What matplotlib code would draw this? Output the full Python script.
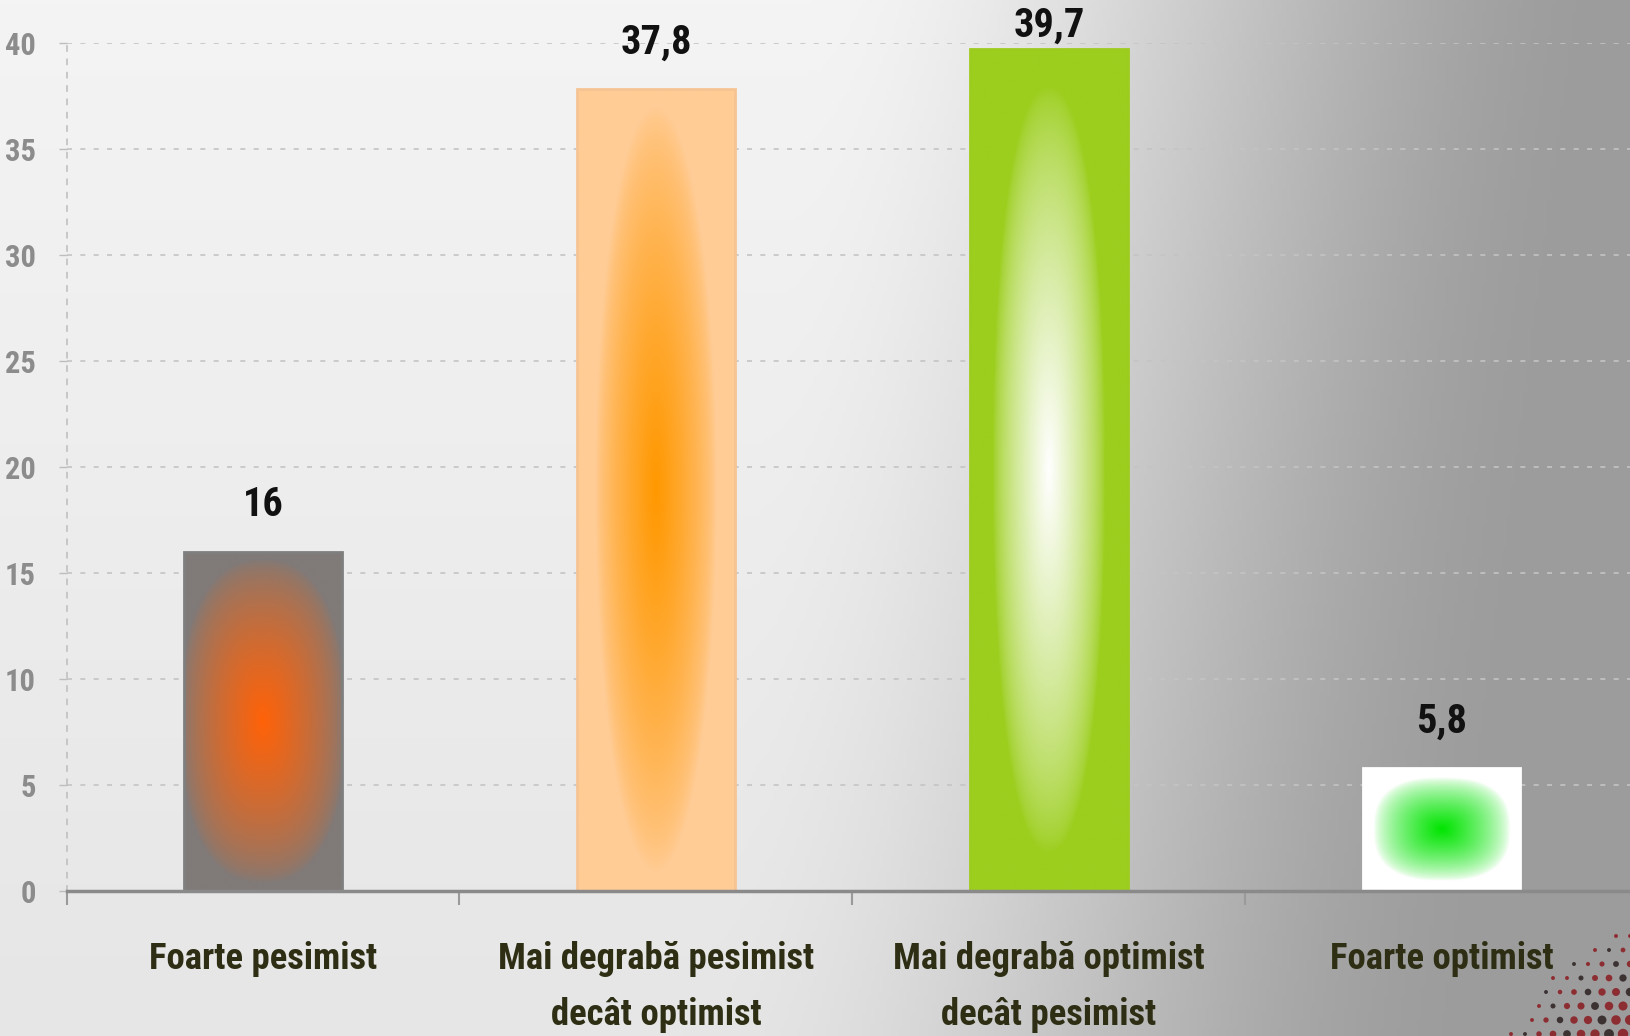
import numpy as np
import matplotlib
matplotlib.use("Agg")
import matplotlib.pyplot as plt
from matplotlib import font_manager as fm

categories = ["Foarte pesimist", "Mai degrabă pesimist\ndecât optimist",
              "Mai degrabă optimist\ndecât pesimist", "Foarte optimist"]
values = [16, 37.8, 39.7, 5.8]
value_labels = ["16", "37,8", "39,7", "5,8"]
yticks = [0, 5, 10, 15, 20, 25, 30, 35, 40]

# (edge colour, centre colour, x scale, y scale, shape power) for each bar's glow
glow = [
    ((128, 122, 120), (255, 98, 8), 0.95, 1.05, 2.4),
    ((255, 204, 150), (255, 152, 0), 1.3, 1.05, 2.0),
    ((156, 206, 30), (255, 255, 255), 1.4, 1.1, 2.2),
    ((255, 255, 255), (0, 228, 0), 1.15, 1.2, 2.6),
]
edge_cols = ['#7f7f7f', '#f6c493', '#9dcc1e', '#ffffff']

# pick a narrow font if one is installed
ttf = fm.fontManager.ttflist
names = {f.name for f in ttf}
stretch = 'normal'
scale = 0.78
if 'Liberation Sans Narrow' in names:
    family = 'Liberation Sans Narrow'
    scale = 1.0
elif 'Roboto Condensed' in names:
    family = 'Roboto Condensed'
    scale = 1.0
elif any(f.name == 'DejaVu Sans' and 'condensed' in str(f.stretch) for f in ttf):
    family = 'DejaVu Sans'
    stretch = 'condensed'
    scale = 0.88
else:
    family = 'DejaVu Sans'
plt.rcParams['font.family'] = [family, 'DejaVu Sans']
plt.rcParams['font.stretch'] = stretch

W, H = 1631, 1036
fig = plt.figure(figsize=(W / 100, H / 100), dpi=100)

# background: light grey on the left going darker to the right
bg = fig.add_axes([0, 0, 1, 1])
gx = np.linspace(0, 1, 400)
gy = np.linspace(0, 1, 200)
X, Y = np.meshgrid(gx, gy)
t = np.clip((X - 0.5 + 0.08 * Y) / 0.5, 0, 1)
t = t * t * (3 - 2 * t)
shade = 244 - 88 * t - 14 * Y * (1 - t)
bg.imshow(np.dstack([shade, shade, shade]).astype(np.uint8), extent=(0, W, H, 0),
          aspect='auto', interpolation='bilinear')

# halftone logo piece in the bottom right corner
hx, hy = np.meshgrid(np.arange(1420, 1650, 14), np.arange(880, 1060, 14))
hx = hx + (np.arange(hx.shape[0])[:, None] % 2) * 7
r = np.hypot(hx - 1700, hy - 1125)
m = r < 210
dot_c = np.where((hx[m] + hy[m]) % 3 < 1, '#2b2020', '#8a1a20')
bg.scatter(hx[m], hy[m], s=np.clip((210 - r[m]) / 1.6, 8, 60), c=dot_c, alpha=0.85, lw=0)
bg.set_xlim(0, W)
bg.set_ylim(H, 0)
bg.axis('off')

ax = fig.add_axes([0.0408, 0.1395, 0.9637, 0.8193])
ax.patch.set_alpha(0)
x = np.arange(len(values))
bars = ax.bar(x, values, width=0.4, facecolor='none', edgecolor='none', zorder=3)

for b, (ec, cc, sx, sy, p), edc in zip(bars, glow, edge_cols):
    x0, w, h = b.get_x(), b.get_width(), b.get_height()
    u, v = np.meshgrid(np.linspace(-1, 1, 120), np.linspace(-1, 1, 300))
    d = (np.abs(u * sx) ** p + np.abs(v * sy) ** p) ** (1 / p)
    f = np.clip(1 - d, 0, 1) ** 0.7
    ec, cc = np.array(ec) / 255, np.array(cc) / 255
    img = ec[None, None, :] * (1 - f[..., None]) + cc[None, None, :] * f[..., None]
    im = ax.imshow(img, extent=(x0, x0 + w, 0, h), aspect='auto',
                   interpolation='bilinear', zorder=3)
    im.set_clip_path(b)
    ax.bar(b.get_x() + w / 2, h, width=w, facecolor='none', edgecolor=edc,
           lw=2, zorder=4)

# value labels sit ~2.2 units above the bar, pushed down near the top edge
for xi, v, lab in zip(x, values, value_labels):
    ax.text(xi, min(v + 2.2, 40.8), lab, ha='center', va='center',
            fontsize=29 * scale, fontweight='bold', color='#111111', clip_on=False)

ax.set_xlim(-0.5, 3.5)
ax.set_ylim(0, 40)
ax.set_yticks(yticks)
ax.set_yticklabels([str(v) for v in yticks], fontsize=22 * scale, fontweight='bold',
                   color='#8c8c8c')
ax.set_xticks(x)
ax.set_xticklabels(categories, fontsize=26.5 * scale, fontweight='bold', color='#2e2e14',
                   linespacing=1.7, va='top')
ax.set_xticks([-0.5, 0.5, 1.5, 2.5], minor=True)
ax.tick_params(axis='x', which='major', length=0, pad=36)
ax.tick_params(axis='x', which='minor', length=10, width=1.5, color='#9a9a9a', direction='out')
ax.tick_params(axis='y', length=6, width=1, color='#bdbdbd', pad=16)

ax.grid(axis='y', color='#c4c4c4', linestyle=(0, (3, 5)), lw=1.2, zorder=1)
for s in ['top', 'right']:
    ax.spines[s].set_visible(False)
ax.spines['left'].set_color('#c0c0c0')
ax.spines['left'].set_linestyle((0, (3, 5)))
ax.spines['left'].set_linewidth(1.2)
ax.spines['bottom'].set_color('#8a8a8a')
ax.spines['bottom'].set_linewidth(2.5)
ax.spines['bottom'].set_zorder(5)

fig.savefig("out.png", dpi=100)
